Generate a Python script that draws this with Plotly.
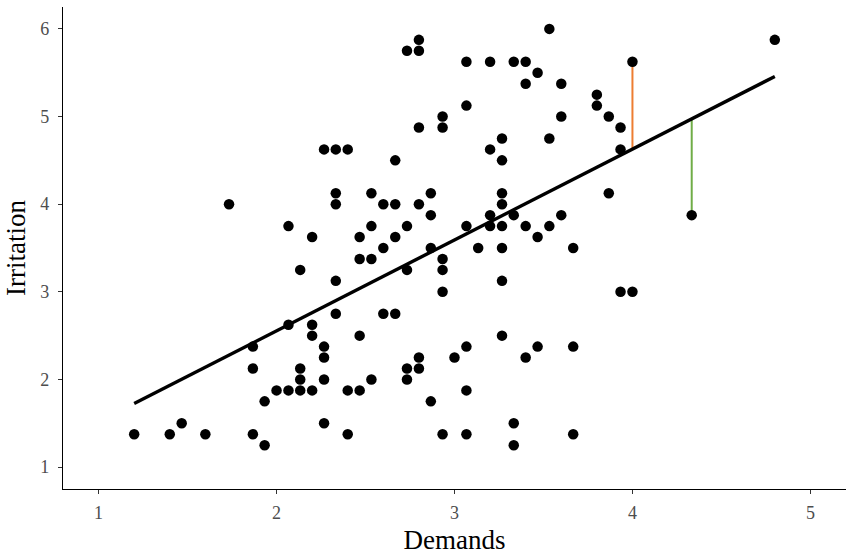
import numpy as np
import plotly.graph_objects as go

demands = [1.2, 1.4, 1.467, 1.6, 1.733, 1.867, 1.867, 1.867, 1.933, 1.933,
           2.0, 2.067, 2.067, 2.067, 2.133, 2.133, 2.133, 2.133, 2.2, 2.2,
           2.2, 2.2, 2.267, 2.267, 2.267, 2.267, 2.267, 2.333, 2.333, 2.333,
           2.333, 2.333, 2.4, 2.4, 2.4, 2.467, 2.467, 2.467, 2.467, 2.533,
           2.533, 2.533, 2.533, 2.6, 2.6, 2.6, 2.667, 2.667, 2.667, 2.667,
           2.733, 2.733, 2.733, 2.733, 2.733, 2.8, 2.8, 2.8, 2.8, 2.8,
           2.8, 2.867, 2.867, 2.867, 2.867, 2.933, 2.933, 2.933, 2.933, 2.933,
           2.933, 3.0, 3.067, 3.067, 3.067, 3.067, 3.067, 3.067, 3.133, 3.2,
           3.2, 3.2, 3.2, 3.267, 3.267, 3.267, 3.267, 3.267, 3.267, 3.267,
           3.267, 3.333, 3.333, 3.333, 3.333, 3.4, 3.4, 3.4, 3.4, 3.467,
           3.467, 3.467, 3.533, 3.533, 3.533, 3.6, 3.6, 3.6, 3.667, 3.667,
           3.667, 3.8, 3.8, 3.867, 3.867, 3.933, 3.933, 3.933, 4.0, 4.0,
           4.333, 4.8]
irritation = [1.375, 1.375, 1.5, 1.375, 4.0, 1.375, 2.375, 2.125, 1.75, 1.25,
              1.875, 1.875, 2.625, 3.75, 3.25, 2.125, 2.0, 1.875, 3.625, 2.625,
              2.5, 1.875, 4.625, 2.375, 2.25, 2.0, 1.5, 4.625, 4.125, 4.0,
              3.125, 2.75, 4.625, 1.875, 1.375, 3.625, 3.375, 2.5, 1.875, 4.125,
              3.75, 3.375, 2.0, 4.0, 3.5, 2.75, 4.5, 4.0, 3.625, 2.75,
              5.75, 3.75, 3.25, 2.125, 2.0, 5.875, 5.75, 4.875, 4.0, 2.25,
              2.125, 4.125, 3.875, 3.5, 1.75, 5.0, 4.875, 3.375, 3.25, 3.0,
              1.375, 2.25, 5.625, 5.125, 3.75, 2.375, 1.875, 1.375, 3.5, 5.625,
              4.625, 3.875, 3.75, 4.75, 4.5, 4.125, 4.0, 3.75, 3.5, 3.125,
              2.5, 5.625, 3.875, 1.5, 1.25, 5.625, 5.375, 3.75, 2.25, 5.5,
              3.625, 2.375, 6.0, 4.75, 3.75, 5.375, 5.0, 3.875, 3.5, 2.375,
              1.375, 5.25, 5.125, 5.0, 4.125, 4.875, 4.625, 3.0, 5.625, 3.0,
              3.875, 5.875]

x_ticks = [1, 2, 3, 4, 5]
y_ticks = [1, 2, 3, 4, 5, 6]

# fitted regression line (intercept, slope)
fit_intercept = 0.482
fit_slope = 1.0365

# residuals highlighted (point x, point y) and colours
resid_x = [4.0, 4.333]
resid_y = [5.625, 3.875]
resid_colors = ["#ED7D31", "#70AD47"]

x = np.array(demands)

fig = go.Figure()

for rx, ry, rc in zip(resid_x, resid_y, resid_colors):
    fig.add_trace(go.Scatter(x=[rx, rx], y=[ry, fit_intercept + fit_slope * rx],
                             mode="lines", line=dict(color=rc, width=2),
                             showlegend=False, hoverinfo="skip"))

fx = np.array([x.min(), x.max()])
fig.add_trace(go.Scatter(x=fx, y=fit_intercept + fit_slope * fx, mode="lines",
                         line=dict(color="black", width=3.4), showlegend=False))

fig.add_trace(go.Scatter(x=demands, y=irritation, mode="markers",
                         marker=dict(color="black", size=10.5, line=dict(width=0)),
                         showlegend=False))

font_family = "Liberation Serif"
axis_common = dict(showgrid=False, zeroline=False, showline=True,
                   linecolor="black", linewidth=1.4, ticks="outside",
                   ticklen=4, tickwidth=1.3, tickcolor="#333333",
                   tickfont=dict(family=font_family, size=18, color="#4D4D4D"),
                   mirror=False, automargin=False)

fig.update_layout(
    width=846, height=555,
    margin=dict(l=63, r=0, t=7, b=66),
    paper_bgcolor="white", plot_bgcolor="white",
    font=dict(family=font_family),
    xaxis=dict(range=[0.8, 5.2], tickvals=x_ticks, ticklabelstandoff=3,
               title=dict(text="Demands", font=dict(family=font_family, size=27, color="black"),
                          standoff=10),
               **axis_common),
    yaxis=dict(range=[0.75, 6.25], tickvals=y_ticks, ticklabelstandoff=5,
               title=dict(text="Irritation", font=dict(family=font_family, size=27, color="black"),
                          standoff=6),
               **axis_common),
)

fig.write_html("out.html", config={"displayModeBar": False},
               post_script="document.body.style.margin='0';")
